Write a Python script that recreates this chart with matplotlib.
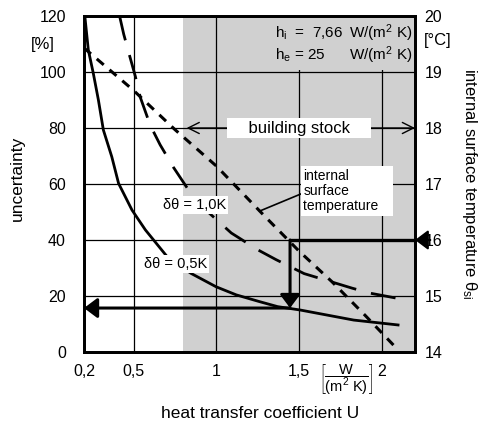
import matplotlib
matplotlib.use('Agg')
import matplotlib.pyplot as plt
from matplotlib.patches import Rectangle

plt.rcParams['font.family'] = ['Liberation Sans', 'DejaVu Sans']
plt.rcParams['mathtext.fontset'] = 'custom'
plt.rcParams['mathtext.rm'] = 'Liberation Sans'
plt.rcParams['mathtext.it'] = 'Liberation Sans:italic'
plt.rcParams['mathtext.bf'] = 'Liberation Sans:bold'

# ---------------- data ----------------
x_ticks = [0.2, 0.5, 1.0, 1.5, 2.0]
x_ticklabels = ['0,2', '0,5', '1', '1,5', '2']
y_ticks = [0, 20, 40, 60, 80, 100, 120]
y_ticklabels = ['0', '20', '40', '60', '80', '100', '120']
t_ticks = [14, 15, 16, 17, 18, 19, 20]
t_ticklabels = ['14', '15', '16', '17', '18', '19', '20']

# uncertainty for delta theta = 0.5 K  [%]
U_05 = [0.205, 0.226, 0.256, 0.287, 0.317, 0.368, 0.409, 0.49, 0.571, 0.703,
        0.846, 0.998, 1.12, 1.26, 1.37, 1.506, 1.83, 2.106]
unc_05 = [120, 107.9, 99.6, 90, 79.3, 69.7, 60.2, 50.7, 43.6, 34,
          28.1, 23.3, 20.4, 18, 16.2, 15, 11.4, 9.6]

# uncertainty for delta theta = 1.0 K  [%]
U_10 = [0.415, 0.44, 0.47, 0.51, 0.54, 0.60, 0.66, 0.74, 0.83, 0.94,
        1.09, 1.25, 1.36, 1.53, 1.67, 1.82, 1.93, 2.10]
unc_10 = [120, 113.5, 107, 98.5, 91, 81, 74, 66, 58, 50.5,
          42.5, 36.5, 33, 28, 25.5, 22.8, 21, 19.1]

# internal surface temperature [degC]
U_si = [0.2, 0.5, 0.75, 1.0, 1.3, 1.5, 1.7, 1.9, 2.1]
T_si = [19.43, 18.67, 17.97, 17.32, 16.40, 15.80, 15.25, 14.65, 14.03]

stock_range = [0.8, 2.2]     # building stock U range
U_read = 1.445               # read-off example
T_read = 16
unc_read = 15.7

shade = '#d0d0d0'

# ---------------- figure ----------------
fig = plt.figure(figsize=(4.81, 4.28), dpi=100)
ax = fig.add_axes([84 / 481, 76 / 428, 331 / 481, 336 / 428])
ax.set_xlim(0.2, 2.2)
ax.set_ylim(0, 120)
ax.set_axisbelow(True)

ax.axvspan(stock_range[0], stock_range[1], color=shade, lw=0, zorder=0)
ax.set_xticks(x_ticks)
ax.set_xticklabels(x_ticklabels)
ax.set_yticks(y_ticks)
ax.set_yticklabels(y_ticklabels)
ax.grid(True, color='black', lw=0.9)
ax.tick_params(length=0, labelsize=11.5)
ax.tick_params(axis='y', pad=13)
ax.tick_params(axis='x', pad=9)
for s in ax.spines.values():
    s.set_linewidth(2.0)

# cover grid behind the h-values box
ax.add_patch(Rectangle((1.1, 100.7), 1.1, 19.3, fc=shade, ec='none', zorder=1))

ax2 = ax.twinx()
ax2.set_ylim(14, 20)
ax2.set_yticks(t_ticks)
ax2.set_yticklabels(t_ticklabels)
ax2.tick_params(length=0, labelsize=11.5, pad=7)
for s in ax2.spines.values():
    s.set_linewidth(2.0)

# curves
ax.plot(U_05, unc_05, color='black', lw=2.0, zorder=3, solid_capstyle='butt')
ax.plot(U_10, unc_10, color='black', lw=2.0, dashes=(9, 5.5), zorder=3)
ax2.plot(U_si, T_si, color='black', lw=2.2, dashes=(3, 2.5), zorder=3)

# labels on curves
ax.text(0.753, 31.4, 'δθ = 0,5K', ha='center', va='center', fontsize=10.5,
        bbox=dict(fc='white', ec='none', pad=1.5), zorder=4)
ax.text(0.866, 52.5, 'δθ = 1,0K', ha='center', va='center', fontsize=10.5,
        bbox=dict(fc='white', ec='none', pad=1.5), zorder=4)

# building stock
ax.text(1.5, 80, '    building stock    ', ha='center', va='center', fontsize=12,
        bbox=dict(fc='white', ec='none', pad=2), zorder=4)
ax.annotate('', xy=(0.82, 80), xytext=(1.1, 80),
            arrowprops=dict(arrowstyle='->,head_length=0.5,head_width=0.25', lw=1.0,
                            color='black', mutation_scale=16, shrinkA=0, shrinkB=0), zorder=3)
ax.annotate('', xy=(2.2, 80), xytext=(1.9, 80),
            arrowprops=dict(arrowstyle='->,head_length=0.5,head_width=0.25', lw=1.0,
                            color='black', mutation_scale=16, shrinkA=0, shrinkB=0), zorder=3)

# internal surface temperature label
ax.text(1.525, 57.5, 'internal\nsurface\ntemperature   ', ha='left', va='center',
        fontsize=10, linespacing=1.1,
        bbox=dict(fc='white', ec='none', pad=2), zorder=4)
ax.annotate('', xy=(1.26, 50.3), xytext=(1.525, 56.8),
            arrowprops=dict(arrowstyle='-', lw=1.2, color='black',
                            shrinkA=0, shrinkB=0), zorder=3)

# heat transfer coefficients
ax.text(1.354, 113.9, 'h$_\\mathrm{i}$  =  7,66', ha='left', va='center', fontsize=11, zorder=4)
ax.text(1.799, 113.9, 'W/(m$^2$ K)', ha='left', va='center', fontsize=11, zorder=4)
ax.text(1.354, 106.0, 'h$_\\mathrm{e}$ = 25', ha='left', va='center', fontsize=11, zorder=4)
ax.text(1.799, 106.0, 'W/(m$^2$ K)', ha='left', va='center', fontsize=11, zorder=4)

# read-off arrows
ax2.plot([U_read, 2.2], [T_read, T_read], color='black', lw=2.4, zorder=5,
         solid_capstyle='butt')
ax2.annotate('', xy=(2.2, T_read), xytext=(11, 0), textcoords='offset points',
             arrowprops=dict(arrowstyle='-|>,head_length=0.4,head_width=0.3', lw=1.5,
                             color='black', mutation_scale=20, shrinkA=0, shrinkB=0),
             annotation_clip=False)
ax.annotate('', xy=(U_read, unc_read), xytext=(U_read, T_read),
            textcoords=ax2.transData,
            arrowprops=dict(arrowstyle='-|>,head_length=0.4,head_width=0.3', lw=2.2,
                            color='black', mutation_scale=20, shrinkA=0, shrinkB=0),
            zorder=5)
ax.annotate('', xy=(0.2, unc_read), xytext=(U_read, unc_read),
            arrowprops=dict(arrowstyle='-|>,head_length=0.4,head_width=0.3', lw=2.2,
                            color='black', mutation_scale=20, shrinkA=0, shrinkB=0),
            zorder=5)

# unit fraction below x axis
ax.text(1.785, -10, r'$\left[\dfrac{\mathrm{W}}{(\mathrm{m}^2\ \mathrm{K})}\right]$',
        ha='center', va='center', fontsize=10.5, clip_on=False)

# axis labels / units
fig.text(43 / 481, 1 - 44 / 428, '[%]', ha='center', va='center', fontsize=12)
fig.text(438 / 481, 1 - 41 / 428, '[°C]', ha='center', va='center', fontsize=12)
fig.text(17 / 481, 1 - 178 / 428, 'uncertainty', ha='center', va='center',
         rotation=90, fontsize=12.5)
fig.text(470 / 481, 1 - 184 / 428, 'internal surface temperature θ$_{\\mathrm{si}}$',
         ha='center', va='center', rotation=270, fontsize=12)
fig.text(260 / 481, 1 - 414 / 428, 'heat transfer coefficient U', ha='center',
         va='center', fontsize=12.5)

fig.savefig('out.png', dpi=100)
